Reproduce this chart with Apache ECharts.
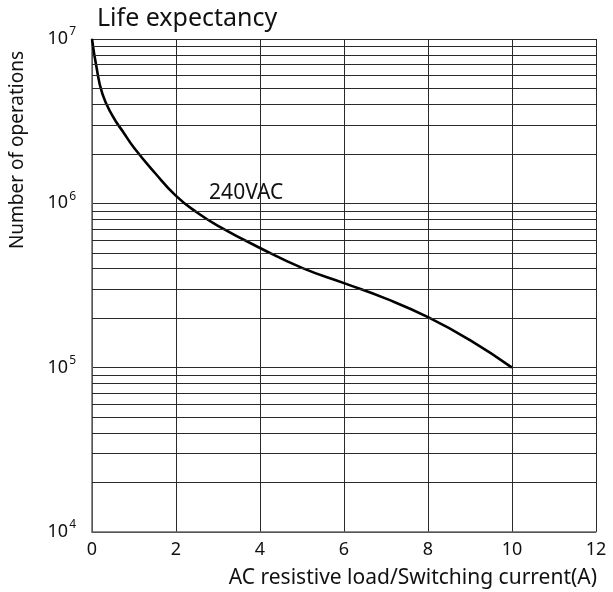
<!DOCTYPE html>
<html>
<head>
<meta charset="utf-8">
<script src="https://cdn.jsdelivr.net/npm/echarts@6/dist/echarts.min.js"></script>
<style>
  html, body { margin: 0; padding: 0; background: #fff; }
  #chart { width: 613px; height: 592px; }
</style>
</head>
<body>
<div id="chart"></div>
<script>
// switching current (A)
var current = [0, 0.1, 0.25, 0.5, 0.75, 1, 1.5, 2, 2.5, 3, 4, 5, 6, 7, 8, 9, 10];
// number of operations at 240VAC
var operations = [1e7, 6.9e6, 4.62e6, 3.37e6, 2.7e6, 2.18e6, 1.53e6, 1.11e6, 8.8e5, 7.3e5, 5.35e5, 4.05e5, 3.27e5, 2.63e5, 2.03e5, 1.47e5, 1e5];
// minor log gridlines: 2..9 in each decade
var decades = [1e4, 1e5, 1e6];
var multipliers = [2, 3, 4, 5, 6, 7, 8, 9];

var minorLines = [];
decades.forEach(function (d) {
  multipliers.forEach(function (m) {
    minorLines.push({ yAxis: d * m });
  });
});

var chart = echarts.init(document.getElementById('chart'), null, { renderer: 'canvas' });
var font = 'Noto Sans';
var gridColor = '#2a2a2a';

var option = {
  backgroundColor: '#fff',
  animation: false,
  textStyle: { fontFamily: font },
  title: {
    text: 'Life expectancy',
    left: 97,
    top: 6,
    padding: 0,
    textStyle: { fontFamily: font, fontSize: 25, fontWeight: 'normal', color: '#111' }
  },
  grid: { left: 92, right: 17, top: 39, bottom: 60 },
  xAxis: {
    type: 'value',
    min: 0,
    max: 12,
    interval: 2,
    axisLine: { show: true, lineStyle: { color: '#666', width: 1.5 } },
    axisTick: { show: false },
    axisLabel: { color: '#111', fontSize: 18, margin: 9, fontFamily: font },
    splitLine: { show: true, lineStyle: { color: gridColor, width: 1 } }
  },
  yAxis: {
    type: 'log',
    logBase: 10,
    min: 1e4,
    max: 1e7,
    axisLine: { show: true, lineStyle: { color: '#666', width: 1.5 } },
    axisTick: { show: false },
    axisLabel: {
      margin: 16,
      formatter: function (v) {
        var e = Math.round(Math.log10(v));
        return '{a|10}{b|' + e + '}';
      },
      rich: {
        a: { fontSize: 18, color: '#111', fontFamily: font },
        b: { fontSize: 12, color: '#111', fontFamily: font, padding: [0, 0, 14, 1] }
      }
    },
    splitLine: { show: true, lineStyle: { color: gridColor, width: 1 } }
  },
  graphic: [
    {
      type: 'text',
      x: 18, y: 150,
      rotation: Math.PI / 2,
      style: {
        text: 'Number of operations',
        fontFamily: font, fontSize: 19, fill: '#111',
        align: 'center', verticalAlign: 'middle'
      }
    },
    {
      type: 'text',
      x: 597, y: 578,
      style: {
        text: 'AC resistive load/Switching current(A)',
        fontFamily: font, fontSize: 21, fill: '#111',
        align: 'right', verticalAlign: 'middle'
      }
    }
  ],
  series: [{
    type: 'line',
    data: current.map(function (x, i) { return [x, operations[i]]; }),
    smooth: 0.5,
    showSymbol: false,
    lineStyle: { color: '#000', width: 2.6 },
    markLine: {
      silent: true,
      symbol: 'none',
      label: { show: false },
      lineStyle: { color: gridColor, width: 1, type: 'solid' },
      data: minorLines
    },
    markPoint: {
      symbol: 'circle',
      symbolSize: 0,
      label: {
        show: true,
        formatter: '240VAC',
        fontFamily: font, fontSize: 21, color: '#111',
        position: 'inside'
      },
      data: [{ coord: [3.67, 1.157e6] }]
    },
    z: 3
  }]
};

chart.setOption(option);
</script>
</body>
</html>
